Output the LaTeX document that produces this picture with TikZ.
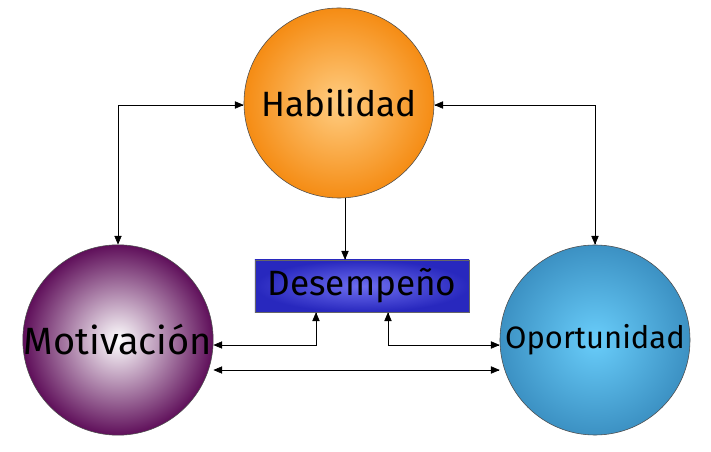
\documentclass[tikz,border=0pt]{standalone}
\usepackage{fontspec}
\setmainfont{Fira Sans}
\usepackage{tikz}
\usetikzlibrary{arrows}
\definecolor{hab_in}{RGB}{255,205,130}
\definecolor{hab_out}{RGB}{245,140,20}
\definecolor{mot_in}{RGB}{255,255,255}
\definecolor{mot_out}{RGB}{95,15,90}
\definecolor{opo_in}{RGB}{105,205,250}
\definecolor{opo_out}{RGB}{60,145,195}
\definecolor{des_in}{RGB}{110,110,240}
\definecolor{des_out}{RGB}{40,40,190}

\begin{document}
\begin{tikzpicture}[<->,>=triangle 45,x=0.025cm,y=-0.025cm]
    \tikzstyle{ball}=[circle, draw=black!70, thin, minimum size=4.75cm, inner sep=0pt, text=black, font=\fontsize{25}{28}\selectfont]
    \tikzstyle{hab}=[style=ball,inner color=hab_in,outer color=hab_out]
    \tikzstyle{mot}=[style=ball,inner color=mot_in,outer color=mot_out,font=\fontsize{27}{30}\selectfont]
    \tikzstyle{opo}=[style=ball,inner color=opo_in,outer color=opo_out,font=\fontsize{22}{25}\selectfont]
    \tikzstyle{box}=[rectangle, draw=black!60, minimum width=5.35cm, minimum height=1.3cm, inner color=des_in, outer color=des_out, font=\fontsize{25}{28}\selectfont]
    \useasboundingbox (0,0) rectangle (711,452);

    \node[hab] (h) at (339,103) {Habilidad};
    \node[mot] (m) at (118,340) {Motivación};
    \node[opo] (o) at (595,340) {Oportunidad};
    \node[box] (d) at (362,286) {Desempeño};

    \coordinate (hl) at (118,105);
    \coordinate (hr) at (595,105);
    \coordinate (hd) at (345,0);
    \coordinate (ml) at (316,345);
    \coordinate (or) at (388,345);

    \draw (h.west |- hl) -- (hl) -- (m.north);
    \draw (h.east |- hr) -- (hr) -- (o.north);
    \draw[->] (h.south -| hd) -- (d.north -| hd);
    \draw (m.east |- ml) -- (ml) -- (d.south -| ml);
    \draw (d.south -| or) -- (or) -- (o.west |- or);
    \draw ([yshift=-0.75cm]m.east) -- ([yshift=-0.75cm]o.west);
\end{tikzpicture}
\end{document}
